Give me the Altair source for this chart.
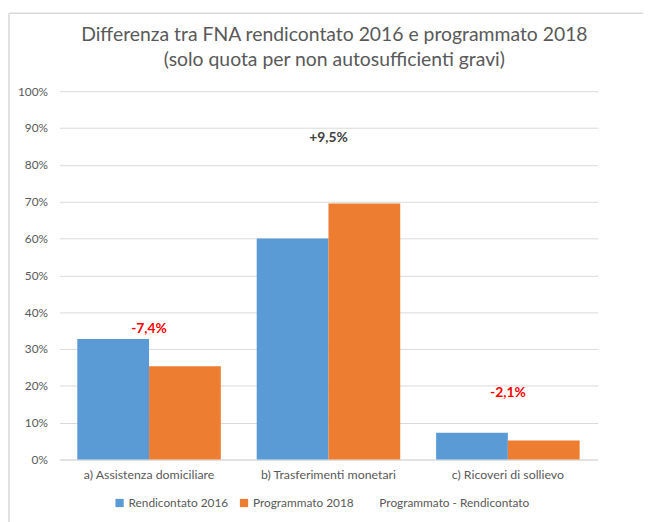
import altair as alt
import pandas as pd

categories = ["a) Assistenza domiciliare", "b) Trasferimenti monetari", "c) Ricoveri di sollievo"]
rendicontato_2016 = [0.327, 0.600, 0.073]
programmato_2018 = [0.253, 0.695, 0.052]
diff_labels = ["-7,4%", "+9,5%", "-2,1%"]
label_y = [0.354, 0.874, 0.18]
series_names = ["Rendicontato 2016", "Programmato 2018", "Programmato - Rendicontato"]
series_colors = ["#5B9BD5", "#ED7D31", "transparent"]
y_ticks = [0.0, 0.1, 0.2, 0.3, 0.4, 0.5, 0.6, 0.7, 0.8, 0.9, 1.0]

FONT = "Lato"
GREY = "#595959"

rows = []
for c, a, b in zip(categories, rendicontato_2016, programmato_2018):
    rows.append({"cat": c, "series": series_names[0], "value": a})
    rows.append({"cat": c, "series": series_names[1], "value": b})
bars_df = pd.DataFrame(rows)

ann_df = pd.DataFrame({
    "cat": categories,
    "label": diff_labels,
    "value": label_y,
    "diff": [b - a for a, b in zip(rendicontato_2016, programmato_2018)],
})

x_axis = alt.Axis(labelAngle=0, labelFontSize=12.5, labelColor=GREY, labelFont=FONT,
                  labelPadding=9, ticks=False, domainColor="#D9D9D9", grid=False)
y_axis = alt.Axis(values=y_ticks, format=".0%", labelFontSize=12, labelColor=GREY,
                  labelFont=FONT, labelPadding=12, ticks=False, domain=False,
                  gridColor="#D9D9D9", tickCount=11)
x_scale = alt.Scale(paddingInner=0.2, paddingOuter=0.1)
y_scale = alt.Scale(domain=[0, 1])

bars = alt.Chart(bars_df).mark_bar().encode(
    x=alt.X("cat:N", sort=categories, title=None, scale=x_scale, axis=x_axis),
    xOffset=alt.XOffset("series:N", sort=series_names[:2]),
    y=alt.Y("value:Q", title=None, scale=y_scale, axis=y_axis),
    color=alt.Color("series:N",
                    scale=alt.Scale(domain=series_names, range=series_colors),
                    legend=alt.Legend(title=None, orient="none", legendX=55, legendY=411,
                                      direction="horizontal", symbolType="square",
                                      symbolSize=70, symbolStrokeWidth=0,
                                      labelFontSize=12, labelColor=GREY, labelFont=FONT,
                                      columnPadding=10, labelOffset=3)),
)

ann = alt.Chart(ann_df).mark_text(fontWeight="bold", fontSize=14, font=FONT).encode(
    x=alt.X("cat:N", sort=categories, title=None, scale=x_scale, axis=x_axis),
    y=alt.Y("value:Q", title=None, scale=y_scale, axis=y_axis),
    text="label:N",
    color=alt.condition("datum.diff < 0", alt.value("#FF0000"), alt.value("#404040")),
)

frame_df = pd.DataFrame({"k": [0]})
frame_top = alt.Chart(frame_df).mark_rule(color="#D9D9D9", strokeWidth=1.5).encode(
    x=alt.value(-51), x2=alt.value(600), y=alt.value(-79))
frame_left = alt.Chart(frame_df).mark_rule(color="#D9D9D9", strokeWidth=1.5).encode(
    x=alt.value(-51), y=alt.value(-79), y2=alt.value(440))

chart = alt.layer(bars, ann, frame_top, frame_left).properties(
    width=545, height=373,
    title=alt.TitleParams(
        ["Differenza tra FNA rendicontato 2016 e programmato 2018",
         "(solo quota per non autosufficienti gravi)"],
        fontSize=19.6, font=FONT, fontWeight="normal", color=GREY, anchor="middle",
        lineHeight=25, offset=-59, dx=6),
    autosize=alt.AutoSizeParams(type="none"),
    padding={"left": 52, "top": 81, "right": 46, "bottom": 60},
).configure_view(stroke=None)

chart.save("out.html", embed_options={"renderer": "svg", "actions": False})
